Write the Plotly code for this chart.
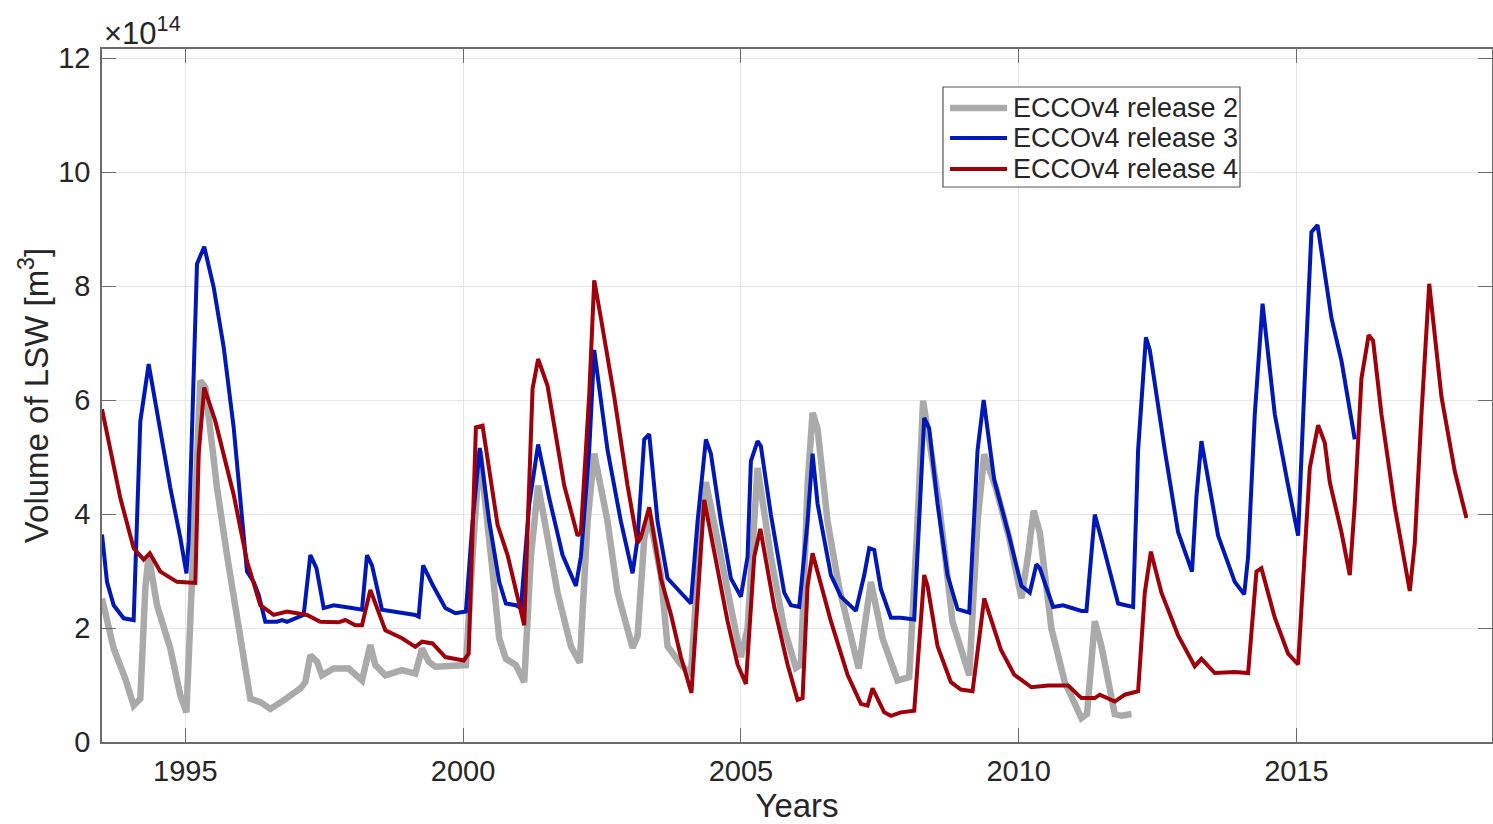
import plotly.graph_objects as go

# ---- data (volume in units of 1e14 m^3, time in decimal years) ----
r2_years = [1993.50, 1993.71, 1993.92, 1994.07, 1994.19, 1994.28, 1994.34, 1994.49, 1994.73, 1994.91,
            1995.02, 1995.09, 1995.21, 1995.27, 1995.36, 1995.57, 1995.75, 1995.99, 1996.17, 1996.35,
            1996.53, 1996.77, 1997.07, 1997.16, 1997.25, 1997.37, 1997.46, 1997.67, 1997.94, 1998.18,
            1998.33, 1998.42, 1998.60, 1998.90, 1999.14, 1999.26, 1999.38, 1999.50, 2000.05, 2000.17,
            2000.30, 2000.53, 2000.65, 2000.77, 2000.95, 2001.10, 2001.22, 2001.35, 2001.70, 2001.94,
            2002.10, 2002.24, 2002.36, 2002.60, 2002.78, 2003.05, 2003.14, 2003.26, 2003.35, 2003.56,
            2003.68, 2003.92, 2004.10, 2004.28, 2004.37, 2004.64, 2004.88, 2005.00, 2005.12, 2005.30,
            2005.54, 2005.78, 2005.99, 2006.08, 2006.20, 2006.29, 2006.38, 2006.56, 2006.77, 2007.12,
            2007.34, 2007.55, 2007.82, 2008.03, 2008.18, 2008.28, 2008.57, 2008.81, 2009.11, 2009.26,
            2009.38, 2009.59, 2009.83, 2010.05, 2010.17, 2010.27, 2010.38, 2010.59, 2010.83, 2011.13,
            2011.23, 2011.37, 2011.49, 2011.73, 2011.85, 2012.03]
r2_vol = [2.52, 1.64, 1.11, 0.64, 0.76, 2.70, 3.28, 2.40, 1.64, 0.82,
          0.52, 2.11, 5.05, 6.34, 6.22, 4.46, 3.28, 1.82, 0.76, 0.70,
          0.58, 0.73, 0.94, 1.05, 1.52, 1.41, 1.17, 1.29, 1.29, 1.08,
          1.70, 1.35, 1.17, 1.26, 1.20, 1.64, 1.41, 1.32, 1.35, 3.28,
          5.10, 2.99, 1.82, 1.46, 1.35, 1.05, 3.25, 4.50, 2.62, 1.68,
          1.39, 3.87, 5.06, 3.87, 2.62, 1.65, 1.86, 3.56, 3.99, 2.93,
          1.68, 1.36, 1.18, 3.87, 4.56, 3.25, 1.99, 1.49, 1.99, 4.81,
          3.25, 1.99, 1.30, 1.36, 4.50, 5.78, 5.50, 3.87, 2.70, 1.29,
          2.81, 1.82, 1.08, 1.14, 3.87, 5.99, 4.16, 2.11, 1.17, 3.87,
          5.05, 4.46, 3.58, 2.52, 3.28, 4.06, 3.68, 1.99, 1.05, 0.42,
          0.49, 2.12, 1.68, 0.49, 0.46, 0.49]

r3_years = [1993.50, 1993.59, 1993.71, 1993.89, 1994.07, 1994.19, 1994.34, 1994.52, 1994.73, 1994.91,
            1995.02, 1995.06, 1995.21, 1995.34, 1995.51, 1995.69, 1995.87, 1996.11, 1996.23, 1996.32,
            1996.44, 1996.65, 1996.74, 1996.83, 1997.13, 1997.25, 1997.36, 1997.49, 1997.67, 1998.00,
            1998.18, 1998.27, 1998.36, 1998.54, 1998.75, 1999.14, 1999.20, 1999.28, 1999.45, 1999.68,
            1999.86, 2000.05, 2000.17, 2000.30, 2000.47, 2000.65, 2000.77, 2000.95, 2001.04, 2001.19,
            2001.35, 2001.55, 2001.79, 2002.03, 2002.12, 2002.27, 2002.36, 2002.60, 2002.84, 2003.05,
            2003.14, 2003.26, 2003.35, 2003.50, 2003.68, 2003.92, 2004.10, 2004.22, 2004.37, 2004.46,
            2004.64, 2004.82, 2005.00, 2005.12, 2005.18, 2005.30, 2005.36, 2005.54, 2005.78, 2005.90,
            2006.05, 2006.20, 2006.29, 2006.38, 2006.62, 2006.80, 2007.07, 2007.22, 2007.31, 2007.40,
            2007.52, 2007.70, 2007.88, 2008.12, 2008.21, 2008.30, 2008.39, 2008.54, 2008.72, 2008.90,
            2009.11, 2009.26, 2009.37, 2009.56, 2009.81, 2010.05, 2010.20, 2010.32, 2010.38, 2010.62,
            2010.80, 2011.13, 2011.22, 2011.37, 2011.49, 2011.79, 2012.06, 2012.15, 2012.29, 2012.36,
            2012.63, 2012.87, 2013.12, 2013.20, 2013.29, 2013.59, 2013.89, 2014.06, 2014.13, 2014.25,
            2014.39, 2014.61, 2014.85, 2015.03, 2015.15, 2015.27, 2015.38, 2015.63, 2015.81, 2016.05]
r3_vol = [3.64, 2.81, 2.40, 2.17, 2.14, 5.63, 6.63, 5.63, 4.46, 3.58,
          2.96, 3.52, 8.39, 8.69, 7.98, 6.93, 5.52, 2.99, 2.81, 2.58,
          2.11, 2.11, 2.14, 2.11, 2.23, 3.28, 3.05, 2.35, 2.40, 2.35,
          2.32, 3.28, 3.10, 2.32, 2.29, 2.23, 2.20, 3.10, 2.76, 2.35,
          2.26, 2.29, 3.87, 5.16, 3.87, 2.81, 2.43, 2.40, 2.35, 4.17,
          5.22, 4.28, 3.28, 2.74, 3.25, 5.12, 6.88, 5.12, 3.87, 2.96,
          3.56, 5.31, 5.40, 3.87, 2.87, 2.62, 2.43, 3.87, 5.31, 5.06,
          3.87, 2.87, 2.55, 3.25, 4.93, 5.28, 5.19, 3.99, 2.62, 2.40,
          2.37, 3.87, 5.06, 4.18, 2.93, 2.55, 2.30, 2.93, 3.40, 3.37,
          2.68, 2.18, 2.18, 2.15, 3.87, 5.69, 5.50, 4.18, 2.93, 2.33,
          2.27, 5.12, 6.00, 4.60, 3.68, 2.74, 2.62, 3.12, 3.05, 2.37,
          2.40, 2.30, 2.30, 3.99, 3.56, 2.43, 2.37, 5.12, 7.10, 6.88,
          5.12, 3.68, 2.99, 4.31, 5.28, 3.62, 2.81, 2.59, 3.25, 5.75,
          7.69, 5.75, 4.50, 3.62, 6.38, 8.95, 9.07, 7.44, 6.69, 5.31]

r4_years = [1993.50, 1993.83, 1994.07, 1994.25, 1994.36, 1994.55, 1994.85, 1995.18, 1995.24, 1995.34,
            1995.54, 1995.87, 1996.11, 1996.35, 1996.59, 1996.83, 1997.19, 1997.43, 1997.76, 1997.88,
            1998.06, 1998.18, 1998.33, 1998.45, 1998.60, 1998.90, 1999.14, 1999.26, 1999.45, 1999.68,
            2000.01, 2000.10, 2000.23, 2000.35, 2000.62, 2000.80, 2001.10, 2001.25, 2001.35, 2001.52,
            2001.82, 2002.06, 2002.12, 2002.27, 2002.36, 2002.48, 2002.72, 2002.96, 2003.14, 2003.20,
            2003.35, 2003.56, 2003.74, 2003.92, 2004.11, 2004.34, 2004.52, 2004.76, 2004.94, 2005.09,
            2005.24, 2005.35, 2005.60, 2005.84, 2006.02, 2006.11, 2006.20, 2006.29, 2006.62, 2006.92,
            2007.16, 2007.28, 2007.37, 2007.58, 2007.70, 2007.88, 2008.12, 2008.30, 2008.36, 2008.54,
            2008.78, 2008.96, 2009.17, 2009.38, 2009.68, 2009.92, 2010.23, 2010.53, 2010.89, 2011.13,
            2011.37, 2011.46, 2011.73, 2011.91, 2012.15, 2012.27, 2012.38, 2012.57, 2012.87, 2013.05,
            2013.17, 2013.29, 2013.53, 2013.89, 2014.13, 2014.28, 2014.37, 2014.61, 2014.85, 2015.03,
            2015.24, 2015.39, 2015.51, 2015.60, 2015.81, 2015.96, 2016.05, 2016.17, 2016.30, 2016.38,
            2016.53, 2016.77, 2017.04, 2017.13, 2017.25, 2017.39, 2017.61, 2017.85, 2018.06]
r4_vol = [5.84, 4.28, 3.40, 3.20, 3.31, 2.99, 2.81, 2.79, 5.05, 6.22,
          5.63, 4.34, 3.17, 2.40, 2.23, 2.29, 2.23, 2.11, 2.10, 2.14,
          2.05, 2.05, 2.67, 2.35, 1.96, 1.82, 1.67, 1.76, 1.73, 1.49,
          1.43, 1.55, 5.52, 5.55, 3.81, 3.28, 2.05, 6.20, 6.72, 6.25,
          4.50, 3.62, 3.68, 6.09, 8.10, 7.44, 6.06, 4.50, 3.49, 3.59,
          4.12, 2.87, 2.24, 1.49, 0.86, 4.25, 3.37, 2.12, 1.36, 1.02,
          3.25, 3.74, 2.37, 1.36, 0.74, 0.77, 2.74, 3.31, 2.12, 1.18,
          0.67, 0.64, 0.94, 0.52, 0.46, 0.52, 0.55, 2.93, 2.74, 1.68,
          1.05, 0.92, 0.89, 2.52, 1.62, 1.18, 0.96, 0.99, 0.99, 0.77,
          0.77, 0.83, 0.71, 0.83, 0.89, 2.62, 3.34, 2.62, 1.87, 1.55,
          1.33, 1.46, 1.21, 1.23, 1.21, 2.99, 3.05, 2.18, 1.55, 1.36,
          4.81, 5.56, 5.25, 4.56, 3.68, 2.93, 4.18, 6.38, 7.14, 7.04,
          5.75, 4.12, 2.65, 3.49, 5.75, 8.04, 6.06, 4.75, 3.93]

series_names = ["ECCOv4 release 2", "ECCOv4 release 3", "ECCOv4 release 4"]
x_ticks = [1995, 2000, 2005, 2010, 2015]
y_ticks = [0, 2, 4, 6, 8, 10, 12]

# ---- styling ----
FONT = "Liberation Sans, Arial, Helvetica, sans-serif"
TXT = "#262626"
AX = "#6b6b6b"
styles = [("#aaaaaa", 6.5), ("#0018b8", 4), ("#a0000a", 4)]

fig = go.Figure()
for name, xs, ys, (col, w) in zip(series_names,
                                   [r2_years, r3_years, r4_years],
                                   [r2_vol, r3_vol, r4_vol], styles):
    fig.add_trace(go.Scatter(x=xs, y=ys, mode="lines", name=name, showlegend=False,
                             line=dict(color=col, width=w)))

axis_common = dict(showline=True, linecolor=AX, linewidth=1.5, mirror="allticks",
                   ticks="inside", ticklen=14, tickcolor=AX, tickwidth=1.2,
                   showgrid=True, gridcolor="#e6e6e6", gridwidth=1, zeroline=False,
                   tickfont=dict(family=FONT, size=29, color=TXT))

# ---- legend drawn as a box with line samples (paper coordinates) ----
leg_box = dict(x0=0.6050, x1=0.8187, y0=0.8009, y1=0.9452)
leg_rows = [0.9149, 0.8716, 0.8268]
shapes = [dict(type="rect", xref="paper", yref="paper", layer="above",
               fillcolor="white", line=dict(color="#555555", width=1.2), **leg_box)]
annotations = []
for (col, w), name, yr in zip(styles, series_names, leg_rows):
    shapes.append(dict(type="line", xref="paper", yref="paper", layer="above",
                       x0=0.6101, x1=0.6511, y0=yr, y1=yr,
                       line=dict(color=col, width=w)))
    annotations.append(dict(text=name, x=0.6540, y=yr, xref="paper", yref="paper",
                            xanchor="left", yanchor="middle", showarrow=False,
                            font=dict(family=FONT, size=27, color=TXT)))

annotations.append(dict(text="×10<sup>14</sup>", x=0, y=1.0, xref="paper", yref="paper",
                        xanchor="left", yanchor="bottom", showarrow=False, yshift=-4,
                        font=dict(family=FONT, size=31, color=TXT)))

fig.update_layout(
    width=1493, height=824,
    margin=dict(l=102, r=1, t=49, b=82, autoexpand=False),
    paper_bgcolor="white", plot_bgcolor="white",
    font=dict(family=FONT, color=TXT),
    showlegend=False,
    xaxis=dict(range=[1993.5, 2018.52], tickvals=x_ticks, ticktext=[str(t) for t in x_ticks],
               title=dict(text="Years", font=dict(family=FONT, size=33, color=TXT), standoff=4),
               ticklabelstandoff=2, **axis_common),
    yaxis=dict(range=[0, 12.16], tickvals=y_ticks, ticktext=[str(t) for t in y_ticks],
               title=dict(text="Volume of LSW [m<sup>3</sup>]", font=dict(family=FONT, size=33, color=TXT), standoff=0),
               ticklabelstandoff=4, **axis_common),
    shapes=shapes,
    annotations=annotations,
)

fig.write_html("out.html", config={"displayModeBar": False})
# remove default page margin so the figure sits at the window's top-left corner
with open("out.html", encoding="utf-8") as f:
    html = f.read()
html = html.replace("<head>", "<head><style>html,body{margin:0;padding:0;overflow:hidden}</style>", 1)
with open("out.html", "w", encoding="utf-8") as f:
    f.write(html)
